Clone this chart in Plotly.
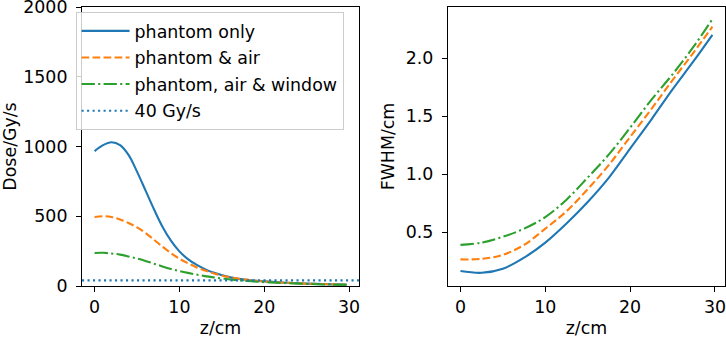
import plotly.graph_objects as go
from plotly.subplots import make_subplots

# ---- data ----
z_dose = [0, 1, 2, 3, 4, 5, 6, 7, 8, 9, 10, 11, 12, 13, 14, 16, 18, 20, 22, 25, 28, 29.7]
dose_phantom = [967, 1010, 1030, 1010, 940, 820, 685, 550, 425, 325, 248, 193, 153, 121, 96, 62, 44, 33, 25, 17, 12, 10]
dose_air = [495, 500, 495, 477, 452, 420, 380, 332, 282, 236, 196, 163, 135, 111, 91, 62, 44, 33, 25, 17, 12, 9]
dose_window = [237, 238, 233, 225, 212, 197, 180, 160, 140, 122, 107, 94, 82, 71, 62, 47, 36, 28, 22, 15, 10, 8]
threshold = 40

z_fwhm = [0, 2.5, 5, 7.5, 10, 12.5, 15, 17.5, 20, 22.5, 25, 27.5, 29.7]
fwhm_phantom = [0.165, 0.15, 0.185, 0.28, 0.41, 0.575, 0.76, 0.97, 1.22, 1.47, 1.73, 1.975, 2.2]
fwhm_air = [0.265, 0.27, 0.305, 0.39, 0.53, 0.68, 0.87, 1.08, 1.32, 1.56, 1.81, 2.05, 2.27]
fwhm_window = [0.39, 0.41, 0.46, 0.53, 0.63, 0.78, 0.97, 1.17, 1.40, 1.64, 1.86, 2.1, 2.335]

names = ["phantom only", "phantom & air", "phantom, air & window", "40 Gy/s"]
colors = ["#1f77b4", "#ff7f0e", "#2ca02c", "#1f77b4"]
dashes = ["solid", "7.7px,3.3px", "13.3px,3.3px,2.1px,3.3px", "2.1px,3.4px"]

x_range = [-1.485, 31.185]
dose_range = [0, 2000]
fwhm_range = [0.036, 2.44]
dose_ticks = [0, 500, 1000, 1500, 2000]
fwhm_ticks = [0.5, 1.0, 1.5, 2.0]
x_ticks = [0, 10, 20, 30]

FONT = "DejaVu Sans"
FS = 17.4
LW = 2.1

fig = make_subplots(rows=1, cols=2, horizontal_spacing=0.138)

for i, ys in enumerate([dose_phantom, dose_air, dose_window]):
    fig.add_trace(go.Scatter(x=z_dose, y=ys, mode="lines", name=names[i],
                             line=dict(color=colors[i], width=LW, dash=dashes[i], shape="spline", smoothing=1.0),
                             legendgroup=str(i)), row=1, col=1)

# legend entry for threshold line
fig.add_trace(go.Scatter(x=[None], y=[None], mode="lines", name=names[3],
                         line=dict(color=colors[3], width=LW, dash=dashes[3]),
                         showlegend=True, legendgroup="3"), row=1, col=1)
fig.add_shape(type="line", xref="x domain", yref="y", x0=0, x1=1, y0=threshold, y1=threshold,
              line=dict(color=colors[3], width=LW, dash=dashes[3]))

for i, ys in enumerate([fwhm_phantom, fwhm_air, fwhm_window]):
    fig.add_trace(go.Scatter(x=z_fwhm, y=ys, mode="lines", name=names[i], showlegend=False,
                             line=dict(color=colors[i], width=LW, dash=dashes[i], shape="spline", smoothing=1.0),
                             legendgroup=str(i)), row=1, col=2)

axis_common = dict(showline=True, linecolor="black", linewidth=1.1, mirror=True,
                   ticks="outside", ticklen=5, tickwidth=1.1, tickcolor="black",
                   showgrid=False, zeroline=False, automargin=False,
                   ticklabeloverflow="allow",
                   tickfont=dict(family=FONT, size=FS, color="black"))

fig.update_xaxes(range=x_range, tickvals=x_ticks, **axis_common,
                 title=dict(text="z/cm", font=dict(family=FONT, size=FS, color="black"), standoff=5))
fig.update_yaxes(range=dose_range, tickvals=dose_ticks, row=1, col=1, ticklabelstandoff=5, **axis_common,
                 title=dict(text="Dose/Gy/s", font=dict(family=FONT, size=FS, color="black"), standoff=8))
fig.update_yaxes(range=fwhm_range, tickvals=fwhm_ticks, tickformat=".1f", row=1, col=2, ticklabelstandoff=5,
                 **axis_common,
                 title=dict(text="FWHM/cm", font=dict(family=FONT, size=FS, color="black"), standoff=6))

fig.update_layout(
    width=726, height=338,
    margin=dict(l=82, r=1, t=7, b=52),
    paper_bgcolor="white", plot_bgcolor="white",
    font=dict(family=FONT, size=FS, color="black"),
    legend=dict(x=-0.01, y=0.982, xanchor="left", yanchor="top",
                bgcolor="rgba(255,255,255,0.8)", bordercolor="#cccccc", borderwidth=1,
                itemwidth=48,
                font=dict(family=FONT, size=FS, color="black"), tracegroupgap=1),
    showlegend=True,
)

fig.write_html("out.html", config={"displayModeBar": False},
               post_script="document.body.style.margin='0';document.body.style.overflow='hidden';")
